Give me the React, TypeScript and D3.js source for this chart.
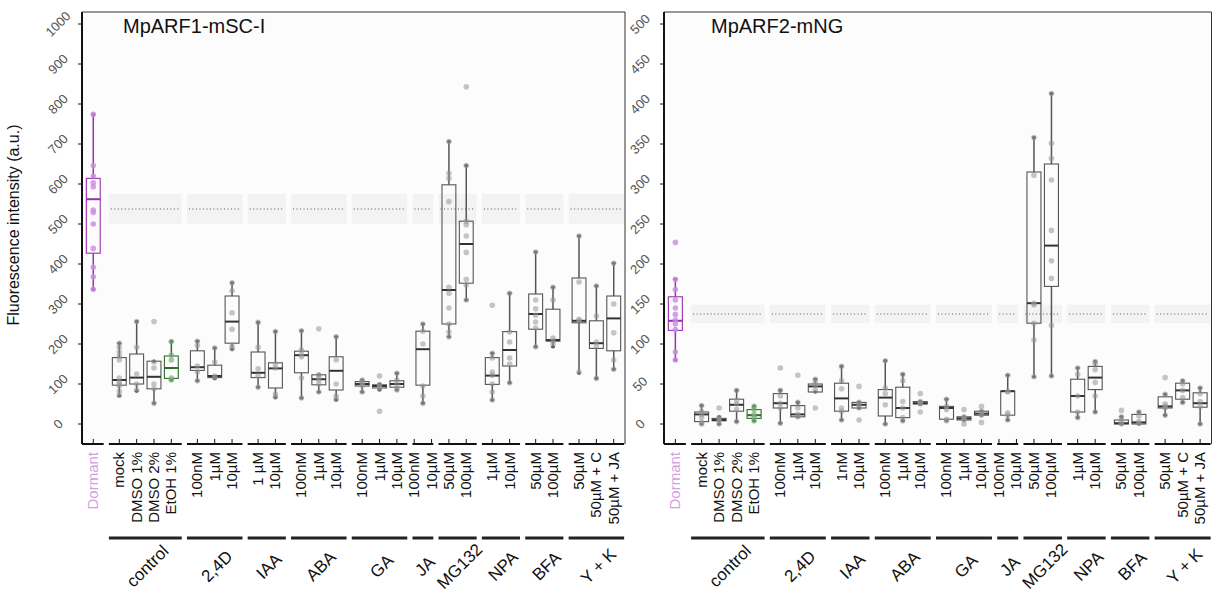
import React from 'react'
import * as d3 from 'd3'

// group names under the bars (first group = Dormant, no bar)
const groupNames = ['', 'control', '2,4D', 'IAA', 'ABA', 'GA', 'JA', 'MG132', 'NPA', 'BFA', 'Y + K']

const slotLabels1 = [
  ['Dormant'], ['mock', 'DMSO 1%', 'DMSO 2%', 'EtOH 1%'], ['100nM', '1µM', '10µM'], ['1 µM', '10µM'],
  ['100nM', '1µM', '10µM'], ['100nM', '1µM', '10µM'], ['100nM', '10µM'], ['50µM', '100µM'],
  ['1µM', '10µM'], ['50µM', '100µM'], ['50µM', '50µM + C', '50µM + JA'],
]
const slotLabels2 = [
  ['Dormant'], ['mock', 'DMSO 1%', 'DMSO 2%', 'EtOH 1%'], ['100nM', '1µM', '10µM'], ['1nM', '10µM'],
  ['100nM', '1µM', '10µM'], ['100nM', '1µM', '10µM'], ['100nM', '10µM'], ['50µM', '100µM'],
  ['1µM', '10µM'], ['50µM', '100µM'], ['50µM', '50µM + C', '50µM + JA'],
]

// [lower whisker, q1, median, q3, upper whisker]
const stats1 = [
  [[337, 427, 562, 614, 774]],
  [[70, 97, 110, 166, 202], [82, 100, 116, 175, 256], [52, 88, 118, 157, 157], [110, 114, 140, 170, 206]],
  [[108, 134, 142, 183, 207], [114, 116, 120, 147, 190], [187, 202, 256, 320, 353]],
  [[92, 116, 128, 180, 254], [66, 90, 139, 153, 231]],
  [[65, 128, 172, 182, 233], [80, 98, 112, 123, 123], [60, 85, 133, 168, 218]],
  [[80, 95, 100, 106, 110], [85, 90, 95, 98, 100], [85, 92, 100, 108, 127]],
  [[52, 97, 187, 232, 250]],
  [[218, 250, 335, 598, 706], [310, 352, 450, 507, 646]],
  [[60, 99, 121, 166, 177], [103, 145, 185, 231, 327]],
  [[193, 237, 275, 325, 430], [193, 207, 210, 287, 342]],
  [[127, 253, 258, 365, 470], [114, 189, 202, 258, 345], [137, 183, 264, 320, 402]],
]
const points1 = [
  [[774, 646, 620, 603, 593, 535, 529, 500, 439, 392, 368, 337]],
  [[202, 192, 180, 170, 160, 115, 105, 100, 95, 82, 72], [256, 192, 125, 100, 85], [256, 155, 140, 100, 88, 52], [206, 172, 160, 115, 110]],
  [[207, 196, 145, 130, 108], [190, 155, 120, 115], [353, 333, 278, 237, 195, 188]],
  [[254, 192, 138, 120, 92], [231, 150, 140, 75, 68]],
  [[233, 185, 175, 168, 115, 65], [238, 123, 118, 110, 100, 80], [218, 160, 100, 70, 62]],
  [[110, 105, 100, 95, 80], [120, 98, 95, 88, 32], [127, 110, 100, 90, 85]],
  [[250, 232, 200, 95, 70, 52]],
  [[706, 627, 614, 556, 342, 327, 290, 250, 230, 218], [843, 646, 507, 498, 470, 429, 362, 348, 310]],
  [[297, 177, 165, 130, 122, 100, 80, 60], [327, 230, 205, 165, 150, 103]],
  [[430, 310, 288, 272, 255, 240, 193], [342, 310, 215, 208, 200]],
  [[470, 355, 262, 258, 130], [345, 270, 205, 195, 114], [402, 300, 228, 160, 137]],
]

const stats2 = [
  [[80, 117, 129, 159, 181]],
  [[0, 3, 12, 15, 23], [0, 4, 5, 7, 9], [3, 16, 24, 31, 42], [4, 7, 11, 18, 22]],
  [[1, 20, 26, 38, 42], [9, 9, 12, 23, 27], [40, 40, 47, 50, 56]],
  [[5, 16, 32, 51, 72], [20, 20, 24, 27, 27]],
  [[0, 10, 33, 43, 79], [4, 8, 20, 46, 62], [25, 25, 26, 28, 28]],
  [[4, 6, 20, 22, 31], [5, 5, 7, 9, 9], [11, 11, 13, 16, 16]],
  [[5, 11, 41, 41, 61]],
  [[59, 126, 151, 315, 358], [60, 172, 223, 325, 413]],
  [[8, 15, 35, 56, 70], [15, 43, 58, 72, 78]],
  [[0, 0, 1, 5, 9], [0, 0, 2, 12, 15]],
  [[11, 20, 22, 34, 37], [27, 31, 42, 51, 54], [0, 21, 26, 39, 45]],
]
const points2 = [
  [[227, 181, 168, 155, 145, 137, 130, 125, 118, 90, 80]],
  [[23, 16, 12, 8, 2, 0], [20, 8, 6, 4, 0], [42, 30, 25, 18, 3], [22, 18, 12, 8, 4]],
  [[70, 42, 35, 26, 20, 1], [61, 27, 20, 12, 9], [56, 52, 48, 42, 20]],
  [[72, 54, 44, 20, 16, 5], [47, 27, 24, 20, 5]],
  [[79, 45, 38, 24, 0], [62, 54, 28, 20, 8, 4], [38, 28, 26, 25, 15]],
  [[31, 22, 18, 6, 4], [18, 9, 7, 5, 0], [22, 16, 13, 11, 2]],
  [[61, 41, 40, 14, 11, 5]],
  [[358, 311, 151, 149, 126, 105, 59], [413, 351, 332, 305, 242, 204, 182, 123, 60]],
  [[70, 62, 35, 15, 8], [78, 75, 68, 52, 35, 15]],
  [[17, 9, 5, 2, 0], [15, 10, 3, 1]],
  [[58, 37, 25, 22, 20, 11], [54, 50, 42, 33, 27], [45, 38, 28, 22, 0]],
]

// dormant reference: [band low, dotted line, band high]
const ref1 = [500, 537.5, 575]
const ref2 = [126, 137.5, 149]

const FONT = '"Liberation Sans", Arial, Helvetica, sans-serif'
const TOP = 12
const AXIS_Y = 444

const colorFor = (label: string) => {
  if (label === 'Dormant') return { stroke: '#9a2fb0', dot: 'rgba(200,140,220,0.8)', text: '#d49ee2' }
  if (label === 'EtOH 1%') return { stroke: '#2f6b2f', dot: 'rgba(120,170,120,0.65)', text: '#111' }
  return { stroke: '#555', dot: 'rgba(150,150,150,0.55)', text: '#111' }
}

function Panel(props: any) {
  const { x0, x1, yMax, yStep, title, titleX, stats, points, labels, refs, yTitle } = props
  const y = d3.scaleLinear().domain([0, yMax]).range([424, 24])

  // slot centers in units, half a slot extra between groups
  let pos = 0
  const centers: number[][] = []
  stats.forEach((g: number[][], gi: number) => {
    if (gi > 0) pos += 0.5
    centers.push(g.map((_, k) => pos + k))
    pos += g.length
  })
  const x = d3.scaleLinear().domain([-0.65, pos - 1 + 0.65]).range([x0, x1])
  const step = x(1) - x(0)
  const bw = step * 0.8

  const groups = stats.map((g: number[][], gi: number) => {
    const c = centers[gi]
    const mid = (c[0] + c[c.length - 1]) / 2
    const labs = labels[gi]
    const labPos = labs.map((_: string, k: number) => labs.length === c.length ? c[k] : mid + (k - (labs.length - 1) / 2))
    return { gi, c, mid, labs, labPos, lo: x(c[0] - 0.6), hi: Math.min(x(c[c.length - 1] + 0.6), x1) }
  })

  return (
    <g>
      <rect x={x0} y={TOP} width={x1 - x0} height={AXIS_Y - TOP} fill="#fcfcfc" />
      {/* dormant reference band and dotted line */}
      {groups.slice(1).map((g: any) => (
        <g key={'ref' + g.gi}>
          <rect x={g.lo} y={y(refs[2])} width={g.hi - g.lo} height={y(refs[0]) - y(refs[2])} fill="#f3f3f3" />
          <line x1={g.lo + 2} x2={g.hi - 2} y1={y(refs[1])} y2={y(refs[1])} stroke="#555" strokeWidth={1} strokeDasharray="1,2.5" />
        </g>
      ))}
      {/* frame */}
      <line x1={x0} x2={x1} y1={TOP} y2={TOP} stroke="#333" strokeWidth={1} />
      <line x1={x1} x2={x1} y1={TOP} y2={AXIS_Y} stroke="#333" strokeWidth={1} />
      <line x1={x0} x2={x0} y1={TOP} y2={AXIS_Y} stroke="#111" strokeWidth={2} />
      <text x={titleX} y={33} fontSize={20} fontFamily={FONT} fill="#111">{title}</text>
      {/* y axis */}
      {d3.range(0, yMax + 1, yStep).map((t: number) => (
        <g key={'yt' + t}>
          <line x1={x0 - 4} x2={x0} y1={y(t)} y2={y(t)} stroke="#111" strokeWidth={1} />
          <text transform={`translate(${x0 - 24},${y(t)}) rotate(-45)`} dy="0.35em" textAnchor="middle"
            fontSize={13} fontFamily={FONT} fill="#555">{t}</text>
        </g>
      ))}
      {yTitle && (
        <text transform={`translate(19,225) rotate(-90)`} textAnchor="middle" fontSize={16} fontFamily={FONT} fill="#111">{yTitle}</text>
      )}
      {/* boxes */}
      {groups.map((g: any) => g.c.map((c: number, k: number) => {
        const [lo, q1, med, q3, hi] = stats[g.gi][k]
        const col = colorFor(g.labs.length === g.c.length ? g.labs[k] : '')
        const cx = x(c)
        return (
          <g key={'b' + g.gi + '-' + k}>
            <line x1={cx} x2={cx} y1={y(hi)} y2={y(q3)} stroke={col.stroke} strokeWidth={1.5} />
            <line x1={cx} x2={cx} y1={y(q1)} y2={y(lo)} stroke={col.stroke} strokeWidth={1.5} />
            <line x1={cx - 2} x2={cx + 2} y1={y(hi)} y2={y(hi)} stroke={col.stroke} strokeWidth={1.5} />
            <line x1={cx - 2} x2={cx + 2} y1={y(lo)} y2={y(lo)} stroke={col.stroke} strokeWidth={1.5} />
            <circle cx={cx} cy={y(hi)} r={1.8} fill={col.stroke} />
            <circle cx={cx} cy={y(lo)} r={1.8} fill={col.stroke} />
            <rect x={cx - bw / 2} y={y(q3)} width={bw} height={Math.max(y(q1) - y(q3), 1)} fill="none" stroke={col.stroke} strokeWidth={1.1} />
            <line x1={cx - bw / 2} x2={cx + bw / 2} y1={y(med)} y2={y(med)} stroke={col.stroke === '#555' ? '#333' : col.stroke} strokeWidth={2} />
            {points[g.gi][k].map((v: number, i: number) => (
              <circle key={i} cx={cx} cy={y(v)} r={2.8} fill={col.dot} />
            ))}
          </g>
        )
      }))}
      {/* x axis segments, slot labels, group bars */}
      {groups.map((g: any) => (
        <g key={'x' + g.gi}>
          <line x1={g.gi === 0 ? x0 : g.lo} x2={g.hi} y1={AXIS_Y} y2={AXIS_Y} stroke="#111" strokeWidth={2} />
          {g.labPos.map((p: number, k: number) => (
            <g key={k}>
              <line x1={x(p)} x2={x(p)} y1={AXIS_Y - 5} y2={AXIS_Y + 1} stroke="#111" strokeWidth={1} />
              <text transform={`translate(${x(p) + 5},${452}) rotate(-90)`} textAnchor="end" fontSize={15}
                fontFamily={FONT} fill={colorFor(g.labs[k]).text}>{g.labs[k]}</text>
            </g>
          ))}
          {g.gi > 0 && (
            <>
              <line x1={g.lo} x2={g.hi} y1={538} y2={538} stroke="#222" strokeWidth={3} />
              <text transform={`translate(${x(g.mid) + 2},566) rotate(-45)`} dy="0.35em" textAnchor="middle"
                fontSize={17} fontFamily={FONT} fill="#111">{groupNames[g.gi]}</text>
            </>
          )}
        </g>
      ))}
    </g>
  )
}

export default function App() {
  return (
    <div style={{ position: 'absolute', left: 0, top: 0 }}>
      <svg width={1213} height={599} style={{ display: 'block', background: '#fff' }}>
        <Panel x0={82} x1={625} yMax={1000} yStep={100} title="MpARF1-mSC-I" titleX={123}
          stats={stats1} points={points1} labels={slotLabels1} refs={ref1} yTitle="Fluorescence intensity (a.u.)" />
        <Panel x0={664} x1={1211.5} yMax={500} yStep={50} title="MpARF2-mNG" titleX={711}
          stats={stats2} points={points2} labels={slotLabels2} refs={ref2} />
      </svg>
    </div>
  )
}
